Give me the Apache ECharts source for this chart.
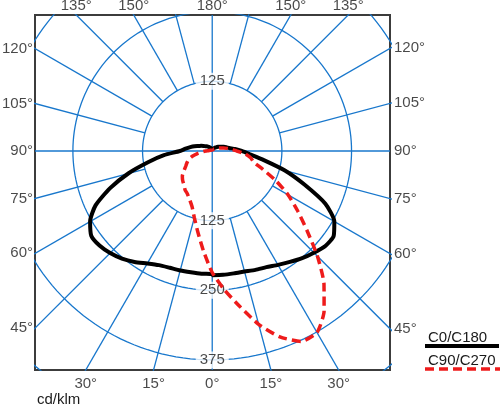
<!DOCTYPE html>
<html>
<head>
<meta charset="utf-8">
<script src="https://cdn.jsdelivr.net/npm/echarts@6/dist/echarts.min.js"></script>
<style>
html, body { margin: 0; padding: 0; background: #fff; }
#chart { width: 500px; height: 406px; }
</style>
</head>
<body>
<div id="chart"></div>
<script>
// gamma angles (deg), 0 = straight down
const angles = [0, 5, 10, 15, 20, 25, 30, 35, 40, 45, 50, 55, 60, 65, 70, 75, 80, 85, 90,
	95, 100, 105, 110, 115, 120, 125, 130, 135, 140, 145, 150, 155, 160, 165, 170, 175, 180];
// cd/klm
const c0 = [223, 223, 223, 224, 227, 230, 236, 243, 251, 258, 265, 266, 253, 224, 176, 135, 94, 68, 53,
	41, 31, 26, 22, 18, 15, 13, 11, 9, 8, 7, 6, 5, 5, 4, 4, 3, 3];
const c180 = [221, 221, 221, 222, 223, 226, 233, 243, 252, 259, 264, 265, 253, 231, 195, 156, 117, 87, 58,
	48, 40, 33, 26, 22, 18, 15, 13, 11, 9, 8, 7, 6, 5, 4, 4, 3, 3];
const c90 = [218, 250, 283, 322, 355, 377, 376, 350, 312, 267, 222, 187, 157, 126, 97, 77, 70, 59, 44,
	35, 27, 21, 16, 12, 9, 7, 6, 5, 4, 4, 3, 3, 3, 2, 2, 2, 2];
const c270 = [218, 180, 148, 124, 106, 96, 89, 85, 79, 75, 70, 62, 55, 50, 45, 37, 27, 18, 12,
	7, 5, 4, 3, 3, 3, 3, 2, 2, 2, 2, 2, 2, 2, 2, 2, 2, 2];

const ringValues = [125, 250, 375, 500];
const ringLabelsDown = [125, 250, 375];
const ringLabelsUp = [125];
const spokeAngles = [15, 30, 45, 60, 75, 105, 120, 135, 150, 165];
const topTicks = [135, 150, 180];
const sideTicks = [120, 105, 90, 75, 60, 45];
const bottomTicks = [30, 15, 0];

// visible window of the diagram, in cd/klm
const X_MIN = -318, X_MAX = 319, Y_MIN = -393, Y_MAX = 244;

const BLUE = '#1877cc';
const FONT = 'Liberation Sans, Arial, sans-serif';
const TXT = '#1a1a1a';

const rad = (d) => d * Math.PI / 180;
// side: 1 = right half, -1 = left half
const toXY = (r, deg, side) => [side * r * Math.sin(rad(deg)), -r * Math.cos(rad(deg))];

function curve(left, right) {
	const pts = [];
	for (let i = angles.length - 1; i >= 0; i--) pts.push(toXY(left[i], angles[i], -1));
	for (let i = 0; i < angles.length; i++) pts.push(toXY(right[i], angles[i], 1));
	return pts;
}

const gridLine = (data) => ({
	type: 'line', data, symbol: 'none', silent: true, animation: false,
	lineStyle: { color: BLUE, width: 1.3 }, z: 1,
});

const series = [];

// rings
ringValues.forEach((r) => {
	const pts = [];
	for (let t = 0; t <= 360; t += 2) pts.push(toXY(r, t, 1));
	series.push(gridLine(pts));
});
// spokes, outside the first ring
spokeAngles.forEach((a) => {
	[1, -1].forEach((s) => series.push(gridLine([toXY(125, a, s), toXY(900, a, s)])));
});
// main axes through the centre
series.push(gridLine([[0, Y_MIN], [0, Y_MAX]]));
series.push(gridLine([[X_MIN, 0], [X_MAX, 0]]));

// ring value labels
const ringPts = ringLabelsDown.map((v) => ({ value: [0, -v], name: String(v) }))
	.concat(ringLabelsUp.map((v) => ({ value: [0, v], name: String(v) })));
series.push({
	type: 'scatter', data: ringPts, symbolSize: 0, silent: true, animation: false, z: 3,
	label: {
		show: true, position: 'inside', formatter: '{b}', color: TXT, fontSize: 15, fontFamily: FONT,
		backgroundColor: '#fff', padding: [1, 4],
	},
});

// angle labels round the frame
function tickSeries(data, position, distance) {
	return {
		type: 'scatter', data, symbolSize: 0, silent: true, animation: false, clip: false, z: 3,
		label: { show: true, position, distance, formatter: '{b}', color: TXT, fontSize: 15, fontFamily: FONT },
	};
}
const topPts = [];
topTicks.forEach((a) => {
	const t = Y_MAX / -Math.cos(rad(a));
	const sides = a === 180 ? [1] : [-1, 1];
	sides.forEach((s) => topPts.push({ value: [s * t * Math.sin(rad(a)), Y_MAX], name: a + '°' }));
});
const leftPts = sideTicks.map((a) => {
	const t = -X_MIN / Math.sin(rad(a));
	return { value: [X_MIN, -t * Math.cos(rad(a))], name: a + '°' };
});
const rightPts = sideTicks.map((a) => {
	const t = X_MAX / Math.sin(rad(a));
	return { value: [X_MAX, -t * Math.cos(rad(a))], name: a + '°' };
});
const bottomPts = [];
bottomTicks.forEach((a) => {
	const t = -Y_MIN / Math.cos(rad(a));
	const sides = a === 0 ? [1] : [-1, 1];
	sides.forEach((s) => bottomPts.push({ value: [s * t * Math.sin(rad(a)), Y_MIN], name: a + '°' }));
});
series.push(tickSeries(topPts, 'top', 2));
series.push(tickSeries(leftPts, 'left', 2));
series.push(tickSeries(rightPts, 'right', 4));
series.push(tickSeries(bottomPts, 'bottom', 6));

// intensity curves
series.push({
	name: 'C0/C180', type: 'line', data: curve(c180, c0), symbol: 'none', smooth: 0.2, z: 5,
	animation: false, lineStyle: { color: '#000', width: 4 },
});
series.push({
	name: 'C90/C270', type: 'line', data: curve(c270, c90), symbol: 'none', smooth: 0.2, z: 6,
	animation: false, lineStyle: { color: '#ee1b1b', width: 3.5, type: [9, 5] },
});

const hiddenAxis = (min, max) => ({
	type: 'value', min, max,
	axisLine: { show: false }, axisTick: { show: false }, axisLabel: { show: false }, splitLine: { show: false },
});

const chart = echarts.init(document.getElementById('chart'));
chart.setOption({
	backgroundColor: '#fff',
	animation: false,
	grid: { left: 35, top: 15, width: 355, height: 355, show: true, borderColor: '#3c3c3c', borderWidth: 2 },
	xAxis: hiddenAxis(X_MIN, X_MAX),
	yAxis: hiddenAxis(Y_MIN, Y_MAX),
	series,
	graphic: [
		{ type: 'text', left: 37, top: 392, style: { text: 'cd/klm', fill: TXT, font: '15px ' + FONT } },
		{ type: 'text', left: 428, top: 330, style: { text: 'C0/C180', fill: TXT, font: '15px ' + FONT } },
		{ type: 'line', shape: { x1: 425, y1: 346, x2: 499, y2: 346 }, style: { stroke: '#000', lineWidth: 4 } },
		{ type: 'text', left: 428, top: 353, style: { text: 'C90/C270', fill: TXT, font: '15px ' + FONT } },
		{
			type: 'line', shape: { x1: 425, y1: 369, x2: 500, y2: 369 },
			style: { stroke: '#ee1b1b', lineWidth: 3.5, lineDash: [9, 5] },
		},
	],
});
</script>
</body>
</html>
